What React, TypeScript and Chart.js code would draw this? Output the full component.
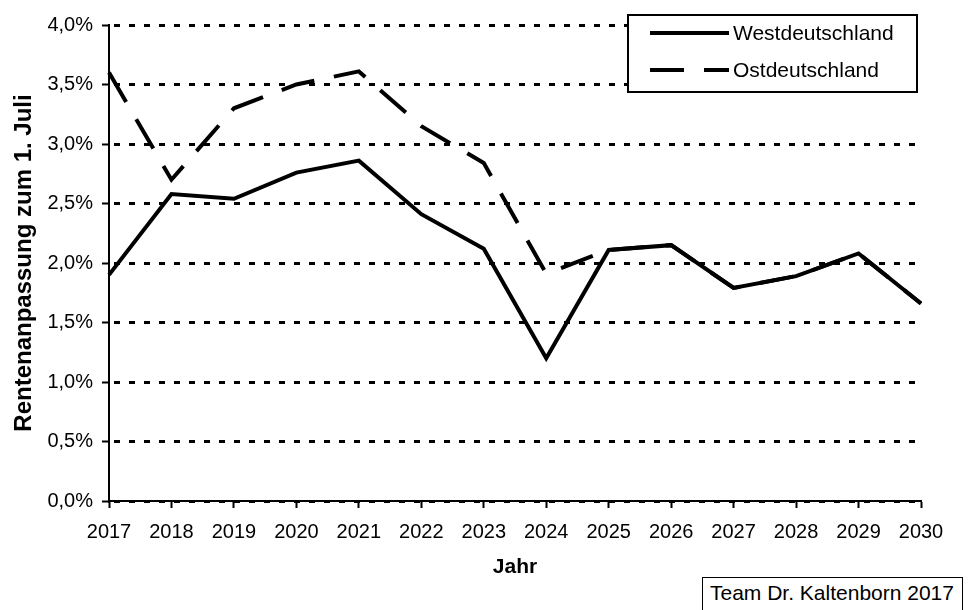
import React, { useEffect, useRef } from "react";
import { Chart, registerables } from "chart.js";

Chart.register(...registerables);

const years = ["2017", "2018", "2019", "2020", "2021", "2022", "2023", "2024", "2025", "2026", "2027", "2028", "2029", "2030"];
const westValues = [1.9, 2.58, 2.54, 2.76, 2.86, 2.41, 2.12, 1.2, 2.11, 2.15, 1.79, 1.89, 2.08, 1.66];
const eastValues = [3.6, 2.7, 3.3, 3.5, 3.61, 3.15, 2.84, 1.91, 2.11, 2.15, 1.79, 1.89, 2.08, 1.66];
const seriesLabels = ["Westdeutschland", "Ostdeutschland"];
const yAxisTitle = "Rentenanpassung zum 1. Juli";
const xAxisTitle = "Jahr";
const footerText = "Team Dr. Kaltenborn 2017";

const FONT = "'Liberation Sans', Arial, Helvetica, sans-serif";
const EAST_DASH = [34, 20];

const legendPlugin = {
  id: "boxLegend",
  afterDraw(chart: any) {
    const ctx = chart.ctx;
    const x0 = 628, y0 = 15, w = 289, h = 77;
    ctx.save();
    ctx.fillStyle = "#fff";
    ctx.fillRect(x0, y0, w, h);
    ctx.lineWidth = 2;
    ctx.strokeStyle = "#000";
    ctx.strokeRect(x0, y0, w, h);
    const rows = [33, 70];
    chart.data.datasets.forEach((ds: any, i: number) => {
      const y = rows[i];
      ctx.beginPath();
      ctx.lineWidth = 4;
      ctx.lineCap = "butt";
      ctx.setLineDash(ds.borderDash || []);
      ctx.moveTo(650, y);
      ctx.lineTo(729, y);
      ctx.stroke();
      ctx.setLineDash([]);
      ctx.fillStyle = "#000";
      ctx.font = `21px ${FONT}`;
      ctx.textAlign = "left";
      ctx.textBaseline = "middle";
      ctx.fillText(ds.label, 733, y + 1);
    });
    ctx.restore();
  },
};

export default function App() {
  const canvasRef = useRef<HTMLCanvasElement | null>(null);

  useEffect(() => {
    const canvas = canvasRef.current;
    if (!canvas) return;
    const chart = new Chart(canvas, {
      type: "line",
      data: {
        labels: years,
        datasets: [
          {
            label: seriesLabels[0],
            data: westValues,
            borderColor: "#000",
            borderWidth: 4,
            pointRadius: 0,
            tension: 0,
            fill: false,
          },
          {
            label: seriesLabels[1],
            data: eastValues,
            borderColor: "#000",
            borderWidth: 4,
            borderDash: EAST_DASH,
            pointRadius: 0,
            tension: 0,
            fill: false,
          },
        ],
      },
      options: {
        animation: false,
        responsive: false,
        maintainAspectRatio: false,
        layout: { padding: { left: 0, top: 25, right: 48, bottom: 0 } },
        plugins: { legend: { display: false }, tooltip: { enabled: false }, title: { display: false } },
        elements: { line: { borderCapStyle: "butt", borderJoinStyle: "miter" } },
        scales: {
          x: {
            type: "category",
            offset: false,
            afterFit: (s: any) => { s.height = 109; },
            grid: { drawOnChartArea: false, drawTicks: true, tickLength: 7, tickColor: "#000", tickWidth: 2 },
            border: { display: true, color: "#000", width: 2 },
            ticks: { color: "#000", font: { family: FONT, size: 20 }, padding: 12, maxRotation: 0, autoSkip: false },
            title: { display: true, text: xAxisTitle, color: "#000", font: { family: FONT, size: 21, weight: "bold" }, padding: { top: 0, bottom: 30 } },
          },
          y: {
            min: 0,
            max: 4,
            afterFit: (s: any) => { s.width = 109; },
            grid: { drawOnChartArea: true, color: "#000", lineWidth: 3, drawTicks: true, tickLength: 7, tickColor: "#000", tickWidth: 2 },
            border: { display: true, color: "#000", width: 2, dash: [6, 9], dashOffset: -4 },
            ticks: {
              stepSize: 0.5,
              color: "#000",
              padding: 9,
              font: { family: FONT, size: 20 },
              callback: (v: any) => Number(v).toFixed(1).replace(".", ",") + "%",
            },
            title: { display: true, text: yAxisTitle, color: "#000", font: { family: FONT, size: 24, weight: "bold" }, padding: { top: 10, bottom: 0 } },
          },
        },
      },
      plugins: [legendPlugin],
    } as any);
    return () => chart.destroy();
  }, []);

  return (
    <div style={{ position: "fixed", left: 0, top: 0, width: 969, height: 610, background: "#fff", overflow: "hidden" }}>
      <canvas ref={canvasRef} width={969} height={610} style={{ display: "block", width: 969, height: 610 }} />
      <div
        style={{
          position: "absolute",
          left: 702,
          top: 577,
          width: 261,
          height: 40,
          border: "1.5px solid #000",
          boxSizing: "border-box",
          fontFamily: FONT,
          fontSize: 21,
          lineHeight: "30px",
          paddingLeft: 7,
          color: "#000",
          background: "#fff",
          whiteSpace: "nowrap",
        }}
      >
        {footerText}
      </div>
    </div>
  );
}
